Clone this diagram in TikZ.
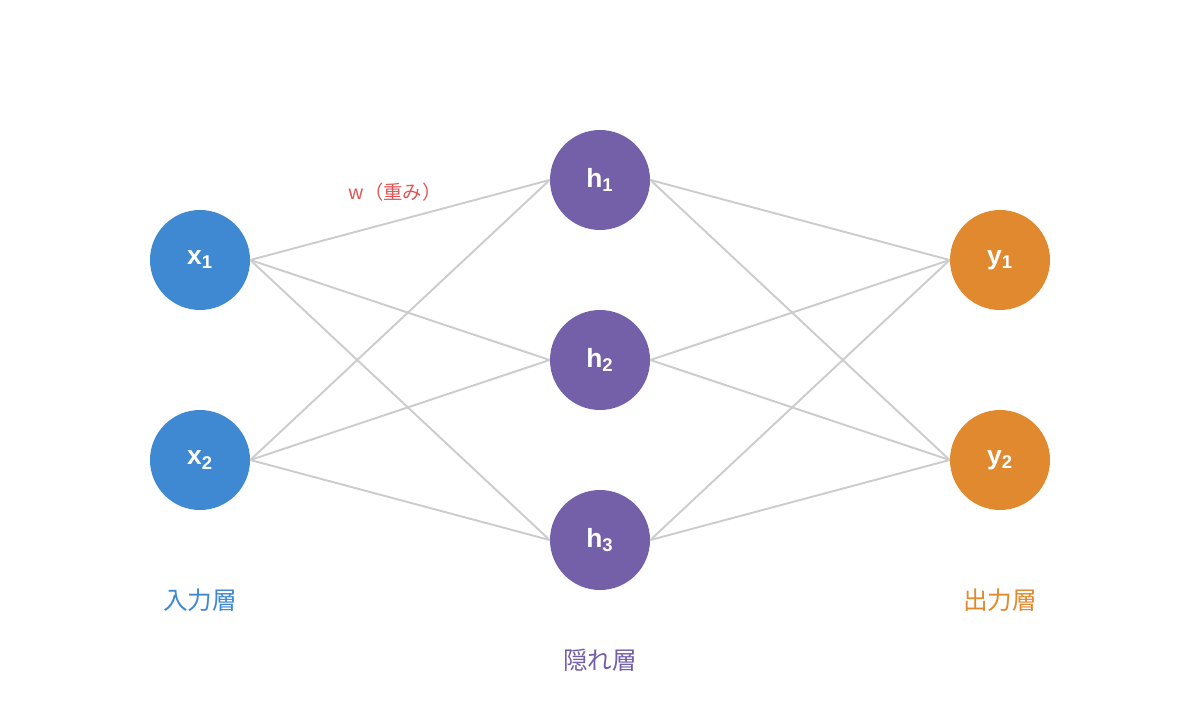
\documentclass[tikz,border=0pt]{standalone}
\usepackage{fontspec}
\setmainfont{Liberation Sans}
\newfontfamily\jpfont{Noto Sans CJK JP}
\usetikzlibrary{positioning}
\definecolor{inblue}{HTML}{3F88D2}
\definecolor{hidpurple}{HTML}{7460A8}
\definecolor{outorange}{HTML}{E0892E}
\definecolor{wred}{HTML}{E05555}
\definecolor{edgegray}{HTML}{CCCCCC}
\tikzset{
  neuron/.style={circle, minimum size=2cm, inner sep=0pt, text=white, font=\fontsize{15}{18}\selectfont\bfseries},
  layerlabel/.style={font=\jpfont\fontsize{14}{16}\selectfont},
  weight/.style={edgegray, line width=1.1pt}
}
\begin{document}
\begin{tikzpicture}
  \useasboundingbox (0,0) rectangle (24,14.4);
  % nodes
  \node[neuron, fill=inblue] (x1) at (4,9.2) {x\textsubscript{1}};
  \node[neuron, fill=inblue] (x2) at (4,5.2) {x\textsubscript{2}};
  \node[neuron, fill=hidpurple] (h1) at (12,10.8) {h\textsubscript{1}};
  \node[neuron, fill=hidpurple] (h2) at (12,7.2) {h\textsubscript{2}};
  \node[neuron, fill=hidpurple] (h3) at (12,3.6) {h\textsubscript{3}};
  \node[neuron, fill=outorange] (y1) at (20,9.2) {y\textsubscript{1}};
  \node[neuron, fill=outorange] (y2) at (20,5.2) {y\textsubscript{2}};
  % weights
  \begin{scope}[on background layer/.style={}]
  \foreach \i in {x1,x2} {
    \foreach \j in {h1,h2,h3} {
      \draw[weight] (\i.east) -- (\j.west);
    }
  }
  \foreach \j in {h1,h2,h3} {
    \foreach \k in {y1,y2} {
      \draw[weight] (\j.east) -- (\k.west);
    }
  }
  \end{scope}
  % labels
  \node[layerlabel, text=inblue] (inlabel) at (4,2.4) {入力層};
  \node[layerlabel, text=hidpurple] (hidlabel) at (12,1.2) {隠れ層};
  \node[layerlabel, text=outorange] (outlabel) at (20,2.4) {出力層};
  \node[font=\jpfont\fontsize{11}{13}\selectfont, text=wred] (wlabel) at (7.9,10.56) {w（重み）};
\end{tikzpicture}
\end{document}
